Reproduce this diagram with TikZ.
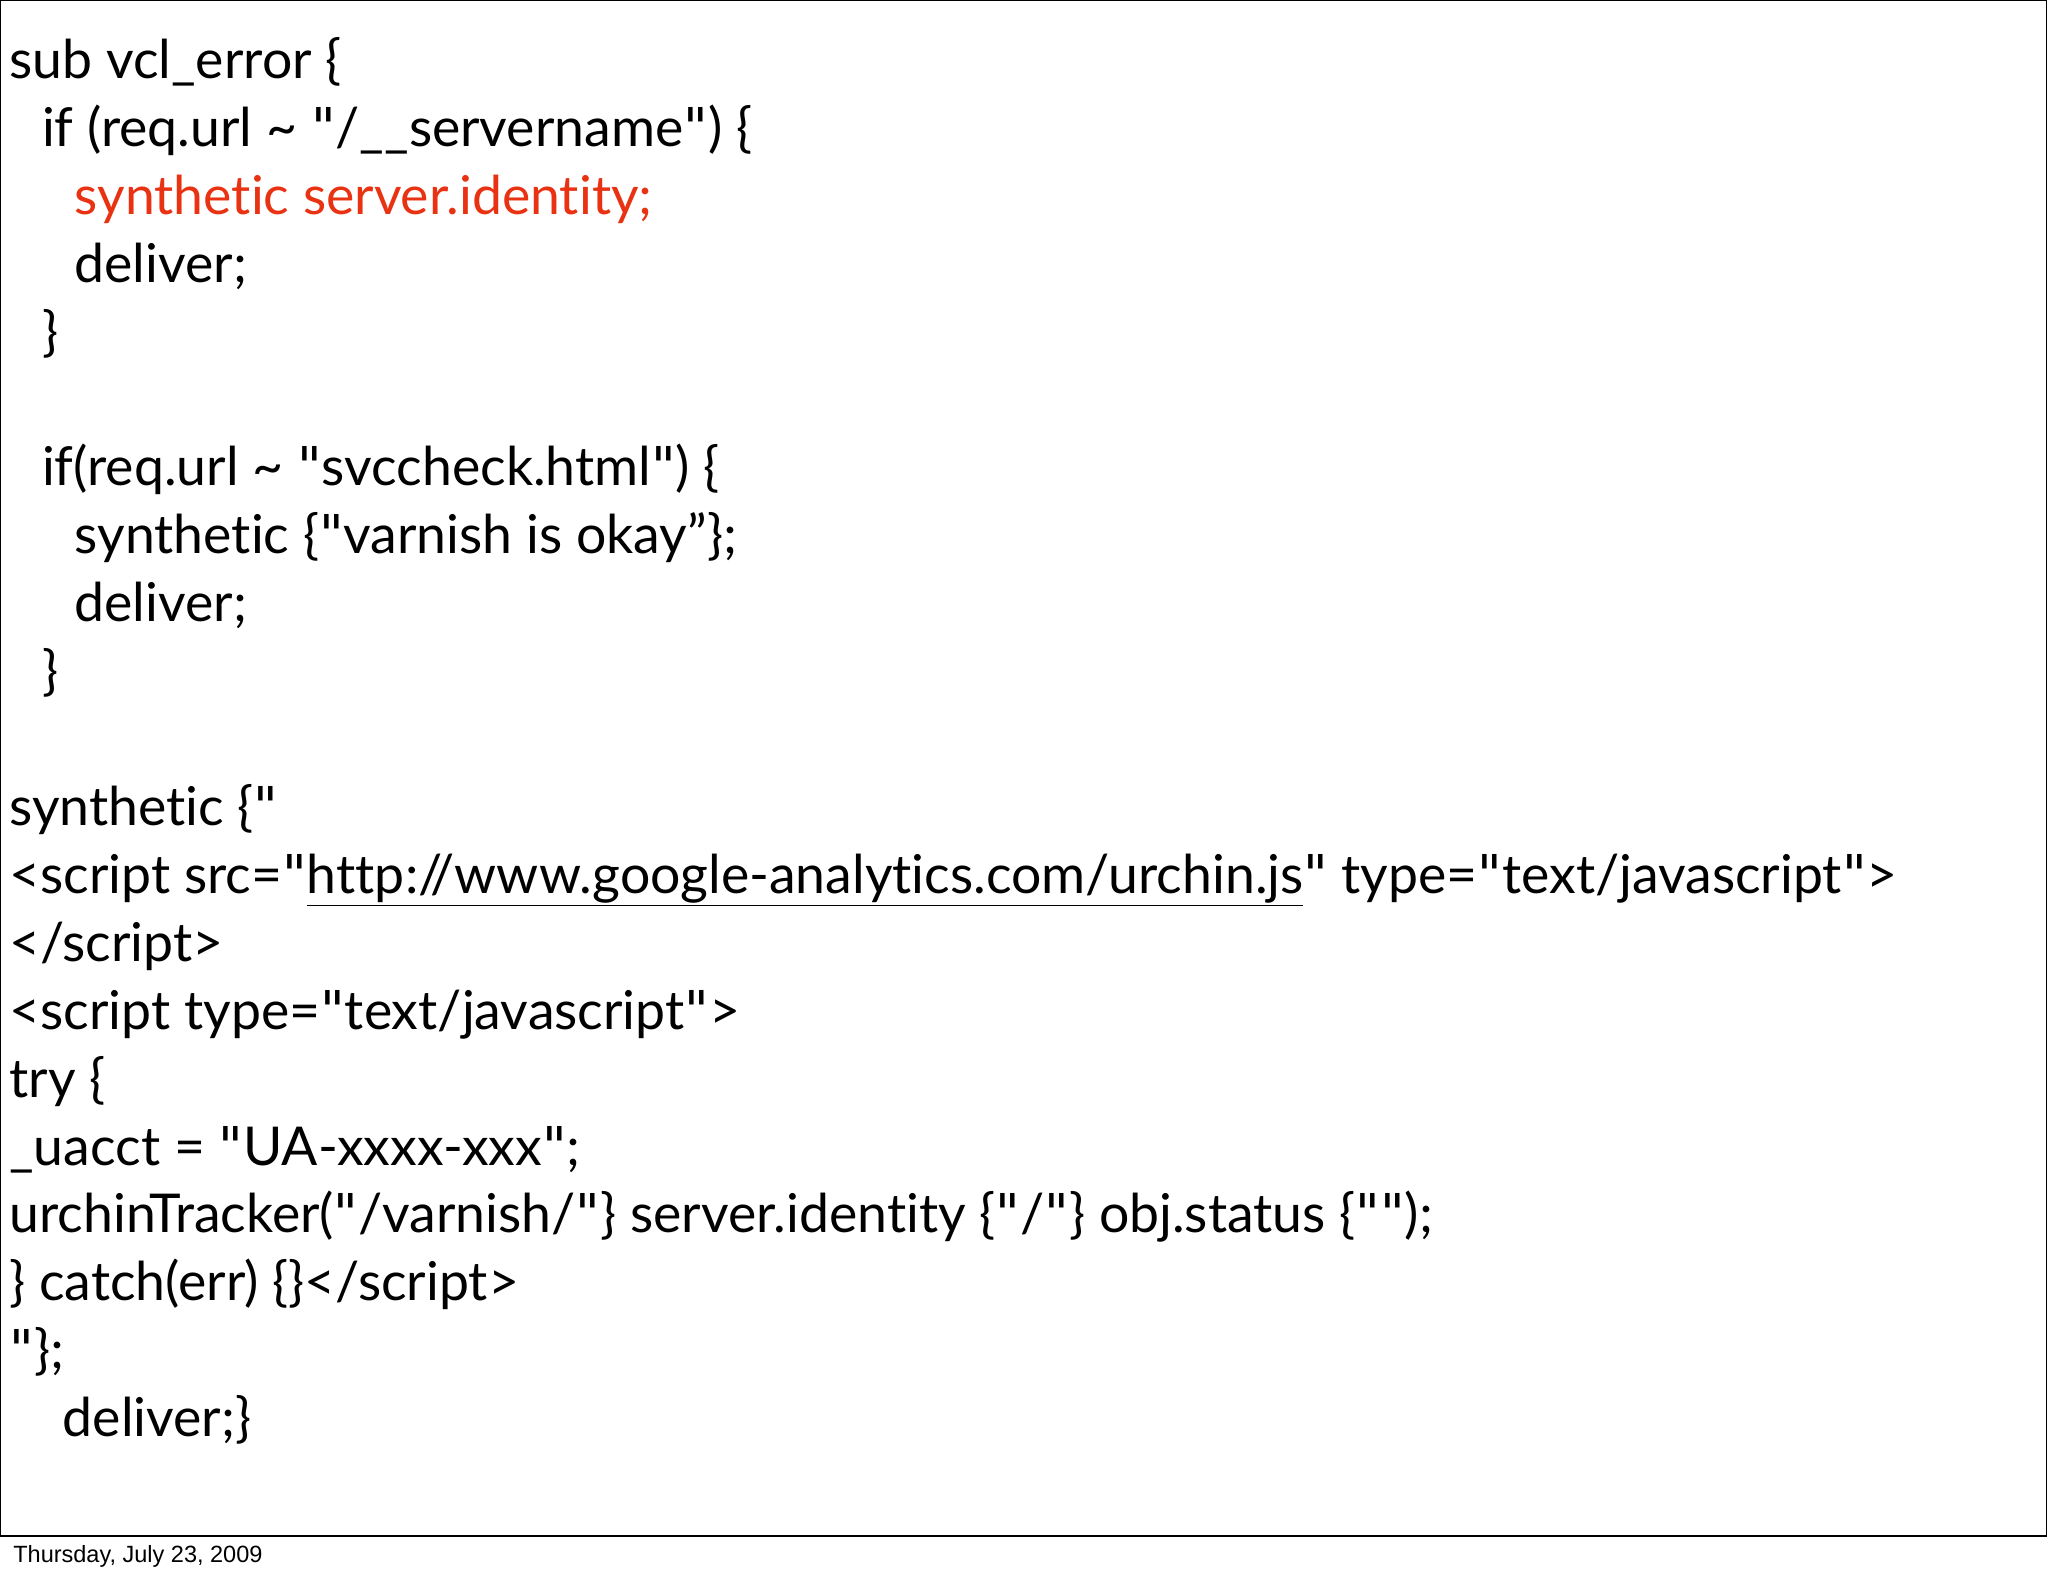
\documentclass[tikz,border=0pt]{standalone}
\usepackage{fontspec}
\setmainfont[Ligatures=NoCommon]{Lato}
\newfontfamily\footfont{Liberation Sans}
\newfontfamily\quotefont{DejaVu Sans}
\definecolor{codered}{RGB}{232,50,18}
\newcommand{\qq}{{\quotefont\symbol{34}}}
\begin{document}
\begin{tikzpicture}[x=1pt,y=-1pt,
  codeline/.style={anchor=base west,inner sep=0pt,font=\fontsize{41}{44}\selectfont}]
\useasboundingbox (0,0) rectangle (1568,1207);
\draw[line width=1pt] (0.5,0.5) rectangle (1567,1176);
\node[codeline] (l1) at (7,60) {sub vcl\_error \{};
\node[codeline] (l2) at (32,112) {if (req.url \textasciitilde{} \qq/\_\_servername\qq) \{};
\node[codeline,text=codered] (l3) at (57,164) {synthetic server.identity;};
\node[codeline] (l4) at (57,216) {deliver;};
\node[codeline] (l5) at (32,268) {\}};
\node[codeline] (l6) at (32,372) {if(req.url \textasciitilde{} \qq svccheck.html\qq) \{};
\node[codeline] (l7) at (57,424) {synthetic \{\qq varnish is okay”\};};
\node[codeline] (l8) at (57,476) {deliver;};
\node[codeline] (l9) at (32,528) {\}};
\node[codeline] (l10) at (7,632) {synthetic \{\qq};
\node[codeline] (l11) at (7,684) {<script src=\qq\underline{http://www.google-analytics.com/urchin.js}\qq{} type=\qq text/javascript\qq>};
\node[codeline] (l12) at (7,736) {</script>};
\node[codeline] (l13) at (7,788) {<script type=\qq text/javascript\qq>};
\node[codeline] (l14) at (7,840) {try \{};
\node[codeline] (l15) at (7,892) {\_uacct = \qq UA-xxxx-xxx\qq;};
\node[codeline] (l16) at (7,944) {urchinTracker(\qq/varnish/\qq\} server.identity \{\qq/\qq\} obj.status \{\qq\qq);};
\node[codeline] (l17) at (7,996) {\} catch(err) \{\}</script>};
\node[codeline] (l18) at (7,1048) {\qq\};};
\node[codeline] (l19) at (48,1100) {deliver;\}};
\node[anchor=base west,inner sep=0pt,font=\footfont\fontsize{18}{20}\selectfont] (foot) at (10,1196) {Thursday, July 23, 2009};
\end{tikzpicture}
\end{document}
